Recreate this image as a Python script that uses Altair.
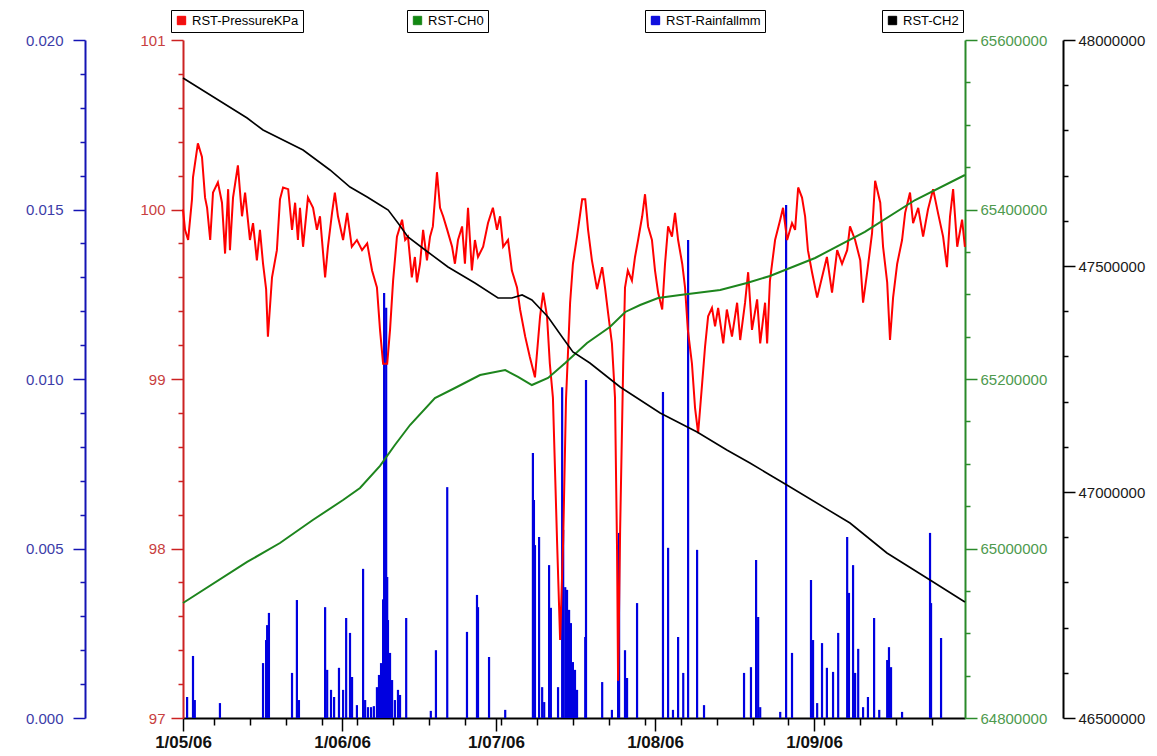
import altair as alt
import pandas as pd

# ---------------- data ----------------
# days since 2006-05-01 00:00
p_day = [0, 0.4, 1.0, 1.75, 1.95, 2.9, 3.7, 4.3, 4.7, 5.3,
         5.85, 6.8, 7.6, 8.2, 8.8, 9.15, 9.75, 10.7, 11.5, 12.1,
         13.05, 13.65, 14.4, 15.0, 15.6, 16.2, 16.55, 17.35, 18.3, 18.9,
         19.5, 20.5, 21.25, 21.85, 22.4, 22.8, 23.4, 24.35, 25.35, 26.1,
         26.7, 27.7, 28.25, 29.05, 29.6, 30.2, 31.2, 32.0, 32.9, 33.9,
         34.9, 35.9, 36.85, 37.8, 38.4, 39.0, 39.8, 40.35, 40.95, 41.7,
         42.7, 43.3, 43.85, 44.6, 45.2, 45.6, 46.2, 46.8, 47.55, 48.15,
         48.7, 49.5, 50.1, 50.7, 51.5, 52.45, 53.0, 53.6, 54.4, 54.95,
         55.55, 56.3, 56.9, 57.5, 58.5, 59.45, 60.4, 61.2, 61.8, 62.4,
         63.35, 64.1, 65.1, 65.7, 66.7, 67.6, 68.6, 69.6, 70.2, 70.95,
         71.5, 72.1, 72.9, 73.5, 74.1, 74.65, 75.45, 76.0, 76.8, 77.8,
         78.4, 78.95, 79.7, 80.7, 81.7, 82.25, 82.85, 83.6, 84.2, 84.6,
         84.8, 85.2, 85.8, 86.15, 86.7, 87.5, 88.1, 88.7, 89.5, 90.05,
         90.65, 91.4, 92.0, 92.6, 93.4, 93.95, 94.55, 95.3, 95.9, 96.5,
         97.3, 97.85, 98.4, 99.2, 99.8, 100.4, 101.2, 101.75, 102.35, 103.1,
         103.7, 104.3, 105.3, 106.0, 107.0, 108.0, 108.6, 109.55, 110.15, 110.9,
         111.9, 112.5, 113.45, 113.85, 114.4, 115.4, 116.4, 116.95, 117.75, 118.7,
         119.3, 119.9, 120.65, 121.25, 121.8, 122.6, 123.6, 124.55, 125.5, 126.5,
         127.5, 128.45, 129.45, 130.0, 131.0, 132.0, 132.55, 133.35, 134.3, 134.9,
         135.9, 136.45, 137.25, 137.8, 138.4, 139.2, 140.15, 140.75, 141.7, 142.3,
         143.3, 144.25, 145.2, 146.2, 147.15, 148.15, 148.9, 149.5, 150.1, 150.9,
         151.85, 152.4]
p_kpa = [100.00, 99.88, 99.82, 100.06, 100.19, 100.39, 100.31, 100.07, 100.01, 99.82,
         100.10, 100.16, 100.04, 99.74, 100.12, 99.76, 100.07, 100.26, 99.96, 100.10,
         99.82, 99.92, 99.70, 99.88, 99.68, 99.53, 99.25, 99.60, 99.76, 100.06,
         100.13, 100.12, 99.88, 100.04, 99.82, 100.01, 99.78, 100.07, 100.01, 99.88,
         99.96, 99.60, 99.78, 99.98, 100.10, 99.96, 99.82, 99.98, 99.78, 99.82,
         99.76, 99.80, 99.64, 99.54, 99.29, 99.09, 99.09, 99.29, 99.58, 99.84,
         99.94, 99.82, 99.84, 99.60, 99.72, 99.57, 99.68, 99.88, 99.70, 99.84,
         99.90, 100.22, 100.01, 99.96, 99.88, 99.78, 99.68, 99.82, 99.90, 99.68,
         100.01, 99.64, 99.82, 99.72, 99.78, 99.92, 100.01, 99.88, 99.96, 99.78,
         99.82, 99.64, 99.54, 99.41, 99.25, 99.13, 99.01, 99.37, 99.51, 99.37,
         99.09, 98.89, 98.05, 97.46, 98.05, 98.88, 99.45, 99.68, 99.84, 100.06,
         100.06, 99.88, 99.70, 99.53, 99.66, 99.54, 99.39, 99.21, 98.89, 97.99,
         97.22, 98.11, 99.09, 99.54, 99.64, 99.58, 99.72, 99.82, 99.96, 100.09,
         99.90, 99.82, 99.64, 99.51, 99.41, 99.68, 99.90, 99.84, 99.98, 99.82,
         99.68, 99.54, 99.29, 99.09, 98.83, 98.68, 98.98, 99.19, 99.37, 99.42,
         99.31, 99.42, 99.21, 99.41, 99.25, 99.45, 99.23, 99.45, 99.63, 99.29,
         99.47, 99.21, 99.45, 99.21, 99.58, 99.82, 99.94, 100.01, 99.82, 99.92,
         99.88, 100.13, 100.07, 99.96, 99.76, 99.63, 99.48, 99.60, 99.72, 99.51,
         99.76, 99.68, 99.76, 99.90, 99.82, 99.70, 99.45, 99.63, 99.86, 100.17,
         100.04, 99.78, 99.57, 99.23, 99.48, 99.68, 99.82, 99.98, 100.10, 99.92,
         100.01, 99.84, 100.00, 100.12, 99.98, 99.84, 99.66, 99.96, 100.12, 99.78,
         99.94, 99.78]

g_day = [0, 12.5, 18.9, 25.3, 31.2, 34.5, 38.4, 41.3, 44.25, 49.1,
         53.0, 57.9, 62.8, 65.3, 68.0, 71.15, 74.5, 78.75, 83.2, 86.2,
         89.1, 92.6, 96.9, 104.7, 109.9, 114.4, 123.2, 132.9, 142.7, 152.4]
g_ch0 = [64935700, 64984100, 65006500, 65033600, 65057200, 65071400, 65097400, 65122100, 65145700, 65177600,
         65189400, 65204700, 65210600, 65202400, 65192900, 65201200, 65218900, 65242500, 65261400, 65279100,
         65287300, 65295600, 65299100, 65305000, 65313300, 65321600, 65342800, 65373500, 65411200, 65440700]

k_day = [0, 12.5, 15.6, 23.4, 28.65, 32.55, 35.9, 38.4, 40.0, 41.9,
         43.85, 47.2, 51.65, 56.9, 61.4, 64.1, 66.1, 68.0, 71.15, 73.9,
         76.0, 79.3, 85.2, 93.0, 100.2, 106.0, 110.5, 114.4, 117.7, 130.0,
         137.2, 145.6, 152.4]
k_ch2 = [47915900, 47827400, 47800900, 47756600, 47712400, 47674800, 47652700, 47635000, 47623900, 47595100,
         47564200, 47535400, 47497800, 47462400, 47429200, 47429200, 47435900, 47424800, 47387200, 47342900,
         47309700, 47285400, 47232300, 47174800, 47132800, 47092900, 47064200, 47037600, 47015500, 46931400,
         46865100, 46805300, 46756600]

r_day = [0.8, 1.95, 2.3, 7.2, 15.6, 16.2, 16.4, 16.75, 21.25, 22.2,
         22.6, 27.7, 28.1, 28.85, 29.45, 30.4, 31.2, 31.8, 32.55, 32.95,
         33.9, 35.1, 35.5, 36.05, 36.65, 37.2, 37.8, 38.2, 38.6, 39.0,
         39.2, 39.4, 39.6, 39.8, 39.95, 40.35, 40.75, 41.3, 41.9, 42.3,
         43.5, 48.3, 49.3, 51.5, 55.35, 57.3, 57.5, 59.65, 62.8, 68.2,
         68.4, 68.6, 69.4, 70.0, 70.4, 71.35, 71.7, 73.1, 73.9, 74.1,
         74.5, 74.85, 75.25, 75.6, 76.0, 76.4, 76.8, 78.4, 78.55, 81.7,
         83.6, 84.8, 85.0, 86.15, 86.55, 88.5, 93.55, 94.55, 95.5, 96.5,
         97.5, 98.45, 100.2, 101.55, 109.35, 110.7, 111.7, 112.1, 112.5, 116.4,
         117.55, 118.7, 122.4, 122.8, 123.6, 124.55, 125.5, 126.7, 127.7, 129.45,
         129.8, 130.6, 131.0, 131.6, 132.55, 133.5, 134.7, 135.7, 137.25, 137.6,
         138.0, 140.15, 145.6, 145.8, 147.75]
r_mm = [0.00062, 0.00183, 0.00053, 0.00044, 0.00162, 0.0023, 0.00274, 0.0031, 0.00133, 0.00348,
        0.00053, 0.00327, 0.00142, 0.00083, 0.00062, 0.00148, 0.00083, 0.00295, 0.00251, 0.00121,
        0.00038, 0.0044, 0.00053, 0.00032, 0.00032, 0.00035, 0.00091, 0.00127, 0.00162, 0.0035,
        0.01254, 0.00938, 0.0121, 0.00416, 0.00289, 0.00192, 0.00112, 0.00053, 0.00083, 0.00068,
        0.00295, 0.00021, 0.002, 0.00681, 0.00254, 0.00363, 0.00327, 0.0018, 0.00024, 0.00782,
        0.00643, 0.0051, 0.00534, 0.00091, 0.00047, 0.00451, 0.00325, 0.00091, 0.00976, 0.00555,
        0.00386, 0.00378, 0.00319, 0.0028, 0.00165, 0.00142, 0.00083, 0.00239, 0.00997, 0.00106,
        0.00024, 0.00348, 0.00546, 0.002, 0.00118, 0.00339, 0.00962, 0.00502, 0.00024, 0.00239,
        0.00133, 0.0141, 0.00496, 0.00038, 0.00133, 0.0015, 0.00466, 0.00298, 0.00032, 0.00018,
        0.01513, 0.00192, 0.00407, 0.0023, 0.00044, 0.00221, 0.00148, 0.00136, 0.00251, 0.00534,
        0.00369, 0.00451, 0.00133, 0.00204, 0.00032, 0.00062, 0.00295, 0.00024, 0.00171, 0.00209,
        0.0015, 0.00018, 0.00546, 0.00339, 0.00236]

SERIES = ["RST-PressureKPa", "RST-CH0", "RST-Rainfallmm", "RST-CH2"]

START = pd.Timestamp("2006-05-01 00:00:00")


def to_time(days):
    return [(START + pd.Timedelta(days=d)).strftime("%Y-%m-%dT%H:%M:%S") for d in days]


press = pd.DataFrame({"t": to_time(p_day), "v": p_kpa, "s": SERIES[0]})
ch0 = pd.DataFrame({"t": to_time(g_day), "v": g_ch0, "s": SERIES[1]})
rain = pd.DataFrame({"t": to_time(r_day), "v": r_mm, "s": SERIES[2]})
ch2 = pd.DataFrame({"t": to_time(k_day), "v": k_ch2, "s": SERIES[3]})

FONT = "Liberation Sans"

# ---------------- x axis ----------------
month_starts = pd.date_range("2006-05-01", "2006-09-01", freq="MS")
sundays = pd.date_range("2006-05-01", "2006-09-30", freq="W-SUN")
tick_dates = sorted(set(list(month_starts) + list(sundays)))
x_vals = [alt.DateTime(year=d.year, month=d.month, date=d.day) for d in tick_dates]

x_axis = alt.Axis(
    values=x_vals,
    labelExpr="date(datum.value) == 1 ? timeFormat(datum.value, '%-d/%m/%y') : ''",
    tickSize={"condition": {"test": "date(datum.value) == 1", "value": 13}, "value": 7},
    labelFont=FONT, labelFontSize=17, labelFontWeight="bold", labelColor="#111111",
    labelPadding=3, labelOverlap=False, labelFlush=False,
    domainColor="#000000", domainWidth=2, tickColor="#000000", tickWidth=1.5,
    grid=False, title=None,
)
x_scale = alt.Scale(domain=[alt.DateTime(year=2006, month=5, date=1),
                            alt.DateTime(year=2006, month=9, date=30, hours=10)])
X = alt.X("t:T", scale=x_scale, axis=x_axis)


def y_axis(values, major_test, fmt, color, label_color, orient, offset, pad):
    return alt.Axis(
        values=values, orient=orient, offset=offset,
        labelExpr=f"({major_test}) ? format(datum.value, '{fmt}') : ''",
        tickSize={"condition": {"test": major_test, "value": 12}, "value": 5},
        labelFont=FONT, labelFontSize=15, labelColor=label_color,
        labelPadding=pad, labelOverlap=False, labelFlush=False,
        domainColor=color, domainWidth=2, tickColor=color, tickWidth=1.5,
        grid=False, title=None,
    )


def legend(color, lx, ly):
    return alt.Legend(
        orient="none", legendX=lx, legendY=ly, title=None,
        strokeColor="#000000", fillColor="#ffffff", padding=4,
        symbolType="square", symbolSize=70, symbolFillColor=color,
        symbolStrokeColor=color, symbolStrokeWidth=1,
        labelFont=FONT, labelFontSize=13, labelColor="#000000",
    )


blue_vals = [round(i * 0.001, 3) for i in range(21)]
red_vals = [round(97 + i * 0.2, 1) for i in range(21)]
green_vals = [64800000 + i * 50000 for i in range(17)]
black_vals = [46500000 + i * 100000 for i in range(16)]

rain_layer = alt.Chart(rain).mark_rule(strokeWidth=2.2).encode(
    x=X,
    y=alt.Y("v:Q", scale=alt.Scale(domain=[0, 0.02], zero=True),
            axis=y_axis(blue_vals, "abs(datum.value*200 - round(datum.value*200)) < 0.001",
                        ".3f", "#1414b4", "#3c3ca8", "left", 98, 10)),
    y2=alt.datum(0),
    color=alt.Color("s:N", scale=alt.Scale(domain=[SERIES[2]], range=["#0000e0"]),
                    legend=legend("#1010dd", 462, -30)),
)

press_layer = alt.Chart(press).mark_line(strokeWidth=2).encode(
    x=X,
    y=alt.Y("v:Q", scale=alt.Scale(domain=[97, 101], zero=False),
            axis=y_axis(red_vals, "abs(datum.value - round(datum.value)) < 0.001",
                        "d", "#cc2222", "#c84040", "left", 0, 6)),
    color=alt.Color("s:N", scale=alt.Scale(domain=[SERIES[0]], range=["#ff0000"]),
                    legend=legend("#ee1111", -12, -30)),
)

ch0_layer = alt.Chart(ch0).mark_line(strokeWidth=2).encode(
    x=X,
    y=alt.Y("v:Q", scale=alt.Scale(domain=[64800000, 65600000], zero=False),
            axis=y_axis(green_vals, "datum.value % 200000 == 0",
                        "d", "#2a8a2a", "#4e9a4e", "right", 0, 3)),
    color=alt.Color("s:N", scale=alt.Scale(domain=[SERIES[1]], range=["#1d851d"]),
                    legend=legend("#118811", 224, -30)),
)

ch2_layer = alt.Chart(ch2).mark_line(strokeWidth=1.6).encode(
    x=X,
    y=alt.Y("v:Q", scale=alt.Scale(domain=[46500000, 48000000], zero=False),
            axis=y_axis(black_vals, "datum.value % 500000 == 0",
                        "d", "#000000", "#1a1a1a", "right", 98, 3)),
    color=alt.Color("s:N", scale=alt.Scale(domain=[SERIES[3]], range=["#000000"]),
                    legend=legend("#000000", 699, -30)),
)

chart = alt.layer(rain_layer, press_layer, ch0_layer, ch2_layer).resolve_scale(
    y="independent", color="independent"
).properties(
    width=782, height=678,
    autosize=alt.AutoSizeParams(type="none"),
    padding={"left": 175, "top": 32, "right": 183, "bottom": 36},
    background="#ffffff",
).configure_view(stroke=None)

chart.save("out.html", embed_options={"renderer": "svg", "actions": False})
